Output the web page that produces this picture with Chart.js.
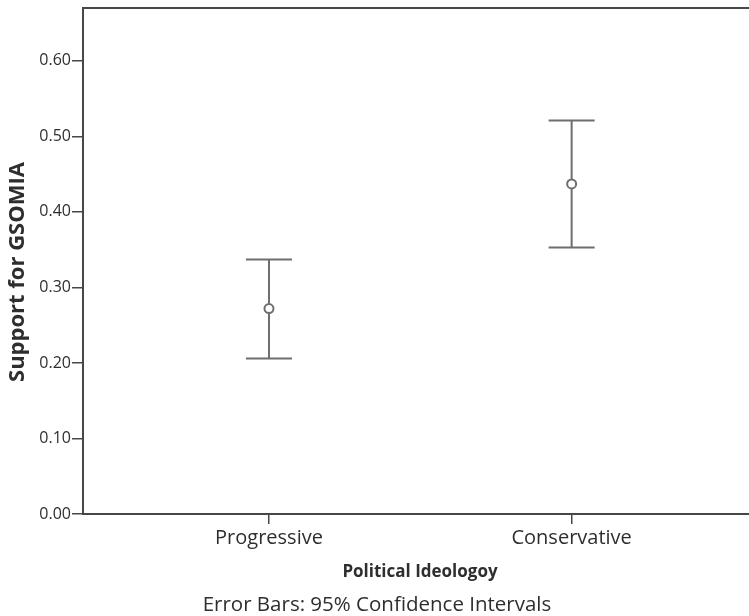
<!DOCTYPE html>
<html>
<head>
  <title>Support for GSOMIA by Political Ideology</title>
  <script src="https://cdn.jsdelivr.net/npm/chart.js"></script>
  <style>
    body {
      margin: 0;
      padding: 0;
      background: #fff;
    }
    #wrap {
      width: 749px;
      height: 616px;
    }
  </style>
</head>
<body>
  <div id="wrap">
    <canvas id="ciChart" width="749" height="616"></canvas>
  </div>

  <script>
    // values
    const categories = ['Progressive', 'Conservative'];
    const catPos = [1, 2];
    const means = [0.272, 0.437];
    const lowerCI = [0.206, 0.353];
    const upperCI = [0.337, 0.521];
    const yTicks = [0, 0.1, 0.2, 0.3, 0.4, 0.5, 0.6];

    const yTitle = 'Support for GSOMIA';
    const xTitle = 'Political Ideologoy';
    const footNote = 'Error Bars: 95% Confidence Intervals';

    const fontFamily = "'Open Sans', 'Noto Sans', Arial, sans-serif";
    const axisColor = '#474747';
    const barColor = '#6e6e6e';
    const textColor = '#2e2e2e';

    // whiskers + caps, drawn through the chart scales
    const errorBars = {
      id: 'errorBars',
      afterDatasetsDraw(chart) {
        const { ctx, scales: { x, y } } = chart;
        ctx.save();
        ctx.strokeStyle = barColor;
        ctx.lineWidth = 2;
        catPos.forEach((pos, i) => {
          const px = x.getPixelForValue(pos);
          const top = y.getPixelForValue(upperCI[i]);
          const bot = y.getPixelForValue(lowerCI[i]);
          const mid = y.getPixelForValue(means[i]);
          ctx.beginPath();
          ctx.moveTo(px, top);
          ctx.lineTo(px, mid - 5);
          ctx.moveTo(px, mid + 5);
          ctx.lineTo(px, bot);
          ctx.moveTo(px - 23, top);
          ctx.lineTo(px + 23, top);
          ctx.moveTo(px - 23, bot);
          ctx.lineTo(px + 23, bot);
          ctx.stroke();
        });
        ctx.restore();
      }
    };

    // top frame line and the axis titles
    const frameAndTitles = {
      id: 'frameAndTitles',
      afterDraw(chart) {
        const { ctx, chartArea } = chart;
        ctx.save();
        ctx.strokeStyle = axisColor;
        ctx.lineWidth = 2;
        ctx.beginPath();
        ctx.moveTo(chartArea.left - 1, chartArea.top);
        ctx.lineTo(chartArea.right, chartArea.top);
        ctx.stroke();

        ctx.fillStyle = textColor;
        ctx.textAlign = 'center';
        ctx.textBaseline = 'middle';
        ctx.font = 'bold 17px ' + fontFamily;
        ctx.fillText(xTitle, 420, 572);
        ctx.font = '20.5px ' + fontFamily;
        ctx.fillText(footNote, 377, 605);

        ctx.translate(18, 272);
        ctx.rotate(-Math.PI / 2);
        ctx.font = 'bold 22px ' + fontFamily;
        ctx.fillText(yTitle, 0, 0);
        ctx.restore();
      }
    };

    new Chart(document.getElementById('ciChart'), {
      type: 'scatter',
      data: {
        datasets: [{
          label: 'Mean',
          data: catPos.map((p, i) => ({ x: p, y: means[i] })),
          pointRadius: 4.5,
          pointBorderWidth: 2,
          pointBorderColor: barColor,
          pointBackgroundColor: '#fff',
          pointHoverRadius: 4.5
        }]
      },
      options: {
        responsive: false,
        animation: false,
        layout: {
          autoPadding: false,
          padding: { top: 8, right: 0, left: 0, bottom: 0 }
        },
        plugins: {
          legend: { display: false },
          tooltip: { enabled: false }
        },
        scales: {
          x: {
            type: 'linear',
            min: 0.3855,
            max: 2.586,
            afterBuildTicks(scale) {
              scale.ticks = catPos.map(v => ({ value: v }));
            },
            afterFit(scale) {
              scale.height = 102;
              scale.paddingLeft = 0;
              scale.paddingRight = 0;
            },
            ticks: {
              color: textColor,
              font: { family: fontFamily, size: 20 },
              padding: 2,
              maxRotation: 0,
              callback: (v) => categories[catPos.indexOf(v)] || ''
            },
            grid: {
              drawOnChartArea: false,
              drawTicks: true,
              tickLength: 10,
              color: axisColor,
              lineWidth: 1.5
            },
            border: { color: axisColor, width: 2 }
          },
          y: {
            min: 0,
            max: 0.67,
            afterBuildTicks(scale) {
              scale.ticks = yTicks.map(v => ({ value: v }));
            },
            afterFit(scale) {
              scale.width = 83;
              scale.paddingTop = 0;
              scale.paddingBottom = 0;
            },
            ticks: {
              color: textColor,
              font: { family: fontFamily, size: 16 },
              padding: 1,
              callback: (v) => v.toFixed(2)
            },
            grid: {
              drawOnChartArea: false,
              drawTicks: true,
              tickLength: 11,
              color: axisColor,
              lineWidth: 1.5
            },
            border: { color: axisColor, width: 2 }
          }
        }
      },
      plugins: [errorBars, frameAndTitles]
    });
  </script>
</body>
</html>
